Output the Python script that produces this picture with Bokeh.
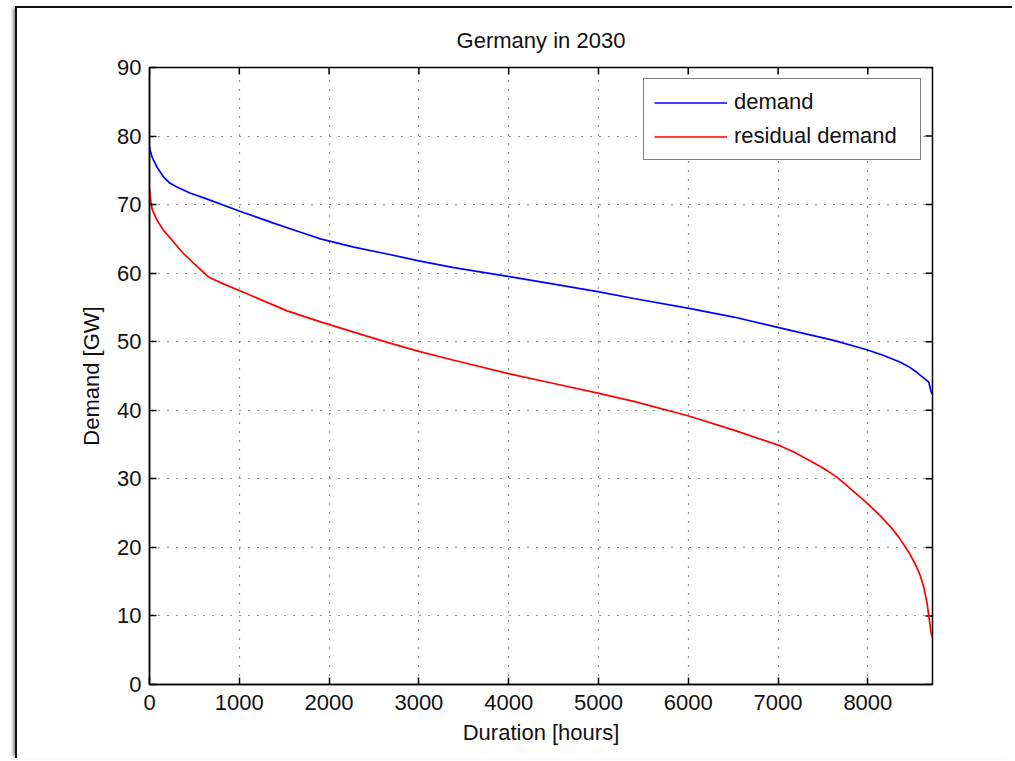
import math
from bokeh.plotting import figure
from bokeh.models import FixedTicker, Range1d, Legend, LegendItem
from bokeh.embed import file_html
from bokeh.resources import INLINE

# ---- data ----
demand_hours = [0, 30, 86, 159, 220, 300, 450, 643, 1013, 1381, 1700, 1904, 2275, 2647, 2999,
                3389, 4009, 4503, 4993, 5393, 5995, 6507, 6997, 7620, 7999, 8177,
                8363, 8450, 8549, 8678, 8708, 8720]
demand_gw = [78.3, 76.9, 75.4, 74.0, 73.2, 72.6, 71.7, 70.8, 69.0, 67.3, 65.9, 65.0, 63.8, 62.8, 61.8,
             60.8, 59.5, 58.4, 57.3, 56.3, 54.9, 53.6, 52.1, 50.2, 48.8, 48.0,
             47.0, 46.4, 45.5, 44.1, 42.6, 42.3]

residual_hours = [0, 15, 30, 80, 159, 382, 512, 643, 679, 828, 1013, 1533, 1904, 2275, 2647,
                  2999, 3389, 4009, 4503, 4993, 5393, 5995, 6507, 7027, 7175, 7361, 7509,
                  7639, 7751, 7918, 8003, 8140, 8252, 8344, 8456, 8530, 8586, 8623, 8660,
                  8705, 8716]
residual_gw = [72.3, 70.5, 69.3, 67.8, 66.2, 62.8, 61.2, 59.6, 59.3, 58.4, 57.4, 54.5, 52.9, 51.4,
               49.9, 48.6, 47.3, 45.3, 43.9, 42.5, 41.3, 39.2, 37.1, 34.8, 33.9, 32.6, 31.5,
               30.4, 29.2, 27.3, 26.3, 24.6, 23.0, 21.5, 19.3, 17.5, 15.8, 14.2, 11.8,
               7.5, 6.9]

x_ticks = [0, 1000, 2000, 3000, 4000, 5000, 6000, 7000, 8000]
y_ticks = [0, 10, 20, 30, 40, 50, 60, 70, 80, 90]
x_max = 8720
y_max = 90

FONT = "Liberation Sans"
FS = "22px"
TXT = "#111111"

p = figure(width=997, height=752, output_backend="svg", toolbar_location=None,
           x_range=Range1d(0, x_max), y_range=Range1d(0, y_max),
           min_border_left=132, min_border_right=82, min_border_top=59, min_border_bottom=76,
           title="Germany in 2030")
p.margin = (6, 0, 0, 15)
p.styles = {"border-left": "2px solid #111",
            "border-top": "2px solid #111",
            "box-shadow": "-4px 0px 3px -2px rgba(0,0,0,0.45)"}

p.background_fill_color = "white"
p.border_fill_color = "white"
p.outline_line_color = "black"
p.outline_line_width = 1.5

p.title.align = "center"
p.title.text_font = FONT
p.title.text_font_size = FS
p.title.text_font_style = "normal"
p.title.text_color = TXT
p.title.standoff = 30

for ax in (p.xaxis[0], p.yaxis[0]):
    ax.major_label_text_font = FONT
    ax.major_label_text_font_size = FS
    ax.major_label_text_color = TXT
    ax.axis_label_text_font = FONT
    ax.axis_label_text_font_size = FS
    ax.axis_label_text_font_style = "normal"
    ax.axis_label_text_color = TXT
    ax.major_tick_in = 7
    ax.major_tick_out = 0
    ax.minor_tick_in = 0
    ax.minor_tick_out = 0
    ax.major_tick_line_color = "black"
    ax.major_tick_line_width = 1.5
    ax.axis_line_color = "black"
    ax.axis_line_width = 1.5

p.xaxis[0].ticker = FixedTicker(ticks=x_ticks)
p.yaxis[0].ticker = FixedTicker(ticks=y_ticks)
p.xaxis[0].axis_label = "Duration [hours]"
p.yaxis[0].axis_label = "Demand [GW]"
p.xaxis[0].major_label_standoff = 10
p.xaxis[0].axis_label_standoff = 7
p.yaxis[0].major_label_standoff = 8
p.yaxis[0].axis_label_standoff = 10

for g in (p.xgrid[0], p.ygrid[0]):
    g.grid_line_color = "black"
    g.grid_line_alpha = 0.85
    g.grid_line_width = 1.2
    g.grid_line_dash = "1 8"
p.xgrid[0].ticker = FixedTicker(ticks=x_ticks)
p.ygrid[0].ticker = FixedTicker(ticks=y_ticks)

# mirrored tick marks on the top and right edges of the box (half clipped by the frame)
p.scatter(x=x_ticks, y=[y_max] * len(x_ticks), marker="dash", size=14, angle=math.pi / 2,
          line_color="black", line_width=1.5)
p.scatter(x=[x_max] * len(y_ticks), y=y_ticks, marker="dash", size=14,
          line_color="black", line_width=1.5)

r1 = p.line(demand_hours, demand_gw, line_color="#0000ff", line_width=1.7)
r2 = p.line(residual_hours, residual_gw, line_color="#ff0000", line_width=1.7)

legend = Legend(items=[LegendItem(label="demand", renderers=[r1]),
                       LegendItem(label="residual demand", renderers=[r2])],
                location="top_right")
legend.margin = 11
legend.padding = 10
legend.spacing = 8
legend.glyph_width = 73
legend.glyph_height = 25
legend.label_height = 25
legend.label_width = 176
legend.label_standoff = 7
legend.label_text_font = FONT
legend.label_text_font_size = FS
legend.label_text_color = TXT
legend.border_line_color = "black"
legend.border_line_width = 1.2
legend.background_fill_color = "white"
legend.background_fill_alpha = 1.0
p.add_layout(legend)

open("out.html", "w").write(file_html(p, INLINE))
